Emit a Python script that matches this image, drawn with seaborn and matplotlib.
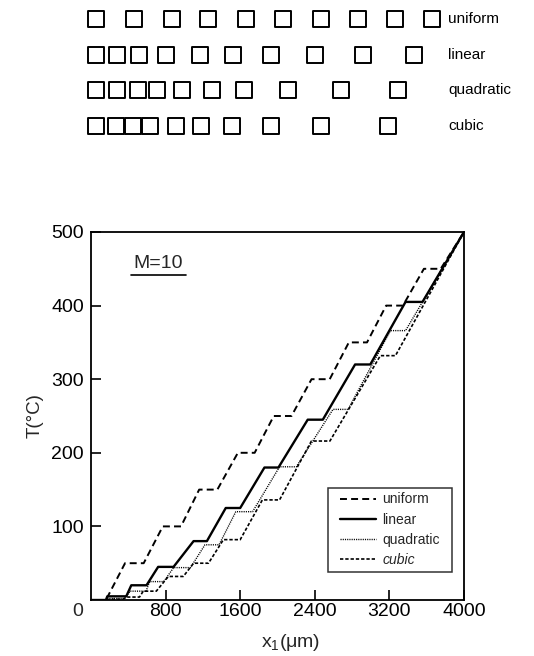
import matplotlib
matplotlib.use("Agg")
import matplotlib.pyplot as plt
import matplotlib.transforms as mtransforms
from matplotlib.lines import Line2D
from matplotlib.path import Path
import numpy as np
import pandas as pd
import seaborn as sns

# Temperature profiles along x1 for M = 10 heating elements.
# Each element holds its temperature over [from, to]; between elements the
# temperature ramps linearly, and the strip ends at (x_end, T_end).
x_end = 4000.0
T_end = 500.0

uniform_T = [0, 50, 100, 150, 200, 250, 300, 350, 400, 450]
uniform_from = [-60, 365, 770, 1160, 1575, 1960, 2365, 2765, 3165, 3570]
uniform_to = [160, 565, 965, 1355, 1755, 2150, 2560, 2960, 3345, 3750]

linear_T = [0, 5, 20, 45, 80, 125, 180, 245, 320, 405]
linear_from = [-60, 175, 432, 720, 1100, 1445, 1860, 2324, 2832, 3373]
linear_to = [160, 378, 595, 885, 1243, 1600, 2010, 2486, 2995, 3555]

quadratic_T = [0, 2, 12, 25, 44, 75, 120, 181, 259, 366]
quadratic_from = [-60, 190, 420, 630, 886, 1222, 1553, 2022, 2595, 3211]
quadratic_to = [160, 360, 590, 780, 1067, 1373, 1733, 2202, 2757, 3373]

cubic_T = [0, 1, 4, 12, 32, 50, 82, 136, 216, 332]
cubic_from = [-60, 200, 390, 560, 830, 1100, 1420, 1838, 2364, 3103]
cubic_to = [160, 340, 520, 700, 990, 1260, 1600, 2022, 2562, 3265]

names = ["uniform", "linear", "quadratic", "cubic"]
x_ticks = [800, 1600, 2400, 3200, 4000]
y_ticks = [100, 200, 300, 400, 500]

levels = [uniform_T, linear_T, quadratic_T, cubic_T]
starts = [uniform_from, linear_from, quadratic_from, cubic_from]
ends = [uniform_to, linear_to, quadratic_to, cubic_to]


def profile(lv, lo, hi):
    xs, ts = [], []
    for t, a, b in zip(lv, lo, hi):
        xs += [a, b]
        ts += [t, t]
    xs.append(x_end)
    ts.append(T_end)
    return xs, ts


rows = []
for name, lv, lo, hi in zip(names, levels, starts, ends):
    xs, ts = profile(lv, lo, hi)
    rows.append(pd.DataFrame({"x": xs, "T": ts, "grid": name}))
curves = pd.concat(rows, ignore_index=True)

elements = pd.concat(
    [pd.DataFrame({"x": (np.array(lo) + np.array(hi)) / 2.0, "row": i})
     for i, (lo, hi) in enumerate(zip(starts, ends))],
    ignore_index=True,
)

sns.set_theme(style="white")
plt.rcParams["font.family"] = ["Liberation Sans", "DejaVu Sans"]
plt.rcParams["mathtext.fontset"] = "custom"
plt.rcParams["mathtext.rm"] = "Liberation Sans"
plt.rcParams["mathtext.it"] = "Liberation Sans:italic"
plt.rcParams["mathtext.bf"] = "Liberation Sans:bold"
plt.rcParams["lines.scale_dashes"] = False

W, H = 534, 656
fig = plt.figure(figsize=(W / 100, H / 100), dpi=100)
ax = fig.add_axes([91 / W, 56 / H, 373 / W, 368 / H])
axd = fig.add_axes([91 / W, (H - 143) / H, 373 / W, 143 / H])

# element layout sketch above the plot, on the same x1 scale
sns.scatterplot(data=elements, x="x", y="row", marker="s", s=118,
                color="white", edgecolor="black", linewidth=1.4,
                legend=False, ax=axd, clip_on=False)
axd.set_xlim(0, 4000)
axd.set_ylim(3.473, -0.532)
axd.axis("off")
blend = mtransforms.blended_transform_factory(axd.transAxes, axd.transData)
for i, name in enumerate(names):
    axd.text(0.958, i, name, transform=blend, ha="left", va="center",
             fontsize=11, color="black")

styles = {
    "uniform": dict(lw=1.4, dashes=(5, 3)),
    "linear": dict(lw=1.7, dashes=None),
    "quadratic": dict(lw=1.0, dashes=(0.8, 0.8)),
    "cubic": dict(lw=1.2, dashes=(2.4, 1.4)),
}
handles = []
for name in names:
    sub = curves[curves["grid"] == name]
    sns.lineplot(data=sub, x="x", y="T", sort=False, estimator=None,
                 color="black", lw=styles[name]["lw"], ax=ax, legend=False)
    line = ax.lines[-1]
    if styles[name]["dashes"] is not None:
        line.set_dashes(styles[name]["dashes"])
    handles.append(line)

ax.set_xlim(0, 4000)
ax.set_ylim(0, 500)
ax.set_xticks(x_ticks)
ax.set_yticks(y_ticks)
ax.set_xticklabels([str(v) for v in x_ticks])
ax.set_yticklabels([str(v) for v in y_ticks])
ax.tick_params(axis="both", which="major", direction="in", length=7.2,
               width=1.2, labelsize=14, colors="black",
               bottom=True, left=True, top=False, right=False)
ax.tick_params(axis="x", pad=2.5)
ax.tick_params(axis="y", pad=5)
for sp in ax.spines.values():
    sp.set_visible(True)
    sp.set_color("black")
    sp.set_linewidth(1.3)

ax.annotate("0", xy=(0, 0), xycoords="axes fraction", xytext=(-9.5, -2.5),
            textcoords="offset points", ha="center", va="top", fontsize=14)

ax.set_xlabel("x$_1$(μm)", fontsize=14)
ax.set_ylabel("T(°C)", fontsize=13.5)
ax.xaxis.set_label_coords(0.535, -0.088)
ax.yaxis.set_label_coords(-0.128, 0.5)

mtext = ax.text(0.18, 0.915, "M=10", transform=ax.transAxes,
                ha="center", va="center", fontsize=14)


def legend_box(x0, y0, width, height, mutation_size):
    # square frame with extra room left and right of the entries
    padx = 0.5 * mutation_size
    x0, x1 = x0 - padx, x0 + width + padx
    y1 = y0 + height
    return Path([(x0, y0), (x1, y0), (x1, y1), (x0, y1), (x0, y0)],
                [Path.MOVETO, Path.LINETO, Path.LINETO, Path.LINETO,
                 Path.CLOSEPOLY])


leg = ax.legend(handles, names, loc="lower right", bbox_to_anchor=(0.949, 0.076),
                frameon=True, fancybox=False, fontsize=10, handlelength=2.6,
                handletextpad=0.5, borderpad=0.35, labelspacing=0.45,
                borderaxespad=0)
leg.get_frame().set_edgecolor("black")
leg.get_frame().set_linewidth(1.1)
leg.get_frame().set_boxstyle(legend_box)
leg.get_texts()[3].set_fontstyle("italic")

# underline the M=10 caption, sized from the rendered text
fig.canvas.draw()
bb = mtext.get_window_extent()
fig.add_artist(Line2D([bb.x0 - 2, bb.x1 + 3], [bb.y0 - 3, bb.y0 - 3],
                      transform=None, color="black", lw=1.2))

fig.savefig("out.png", dpi=100, facecolor="white")
